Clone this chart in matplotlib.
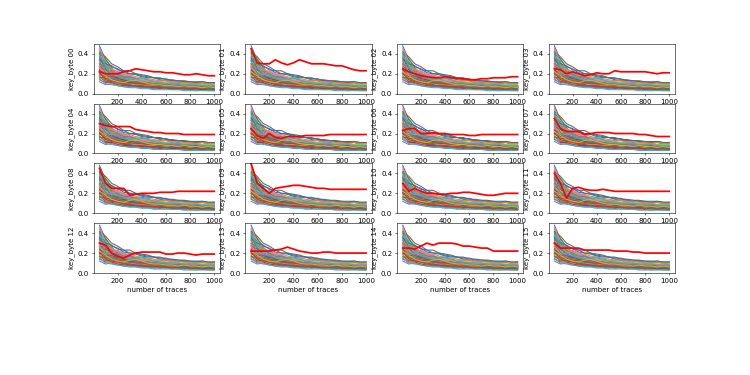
import numpy as np
from matplotlib import pyplot as plt

# number of traces on the x axis
n_traces = [50, 100, 150, 200, 250, 300, 350, 400, 450, 500,
            550, 600, 650, 700, 750, 800, 850, 900, 950, 1000]

key_bytes = ['00', '01', '02', '03', '04', '05', '06', '07',
             '08', '09', '10', '11', '12', '13', '14', '15']

# wrong key guesses (same set for every byte)
wrong_keys = [
    [.48, .34, .27, .25, .21, .20, .19, .17, .16, .16, .14, .13, .13, .12, .12, .11, .11, .12, .11, .11],
    [.44, .29, .22, .19, .18, .14, .13, .13, .12, .10, .11, .10, .09, .09, .10, .09, .08, .08, .09, .08],
    [.40, .35, .26, .20, .16, .16, .13, .11, .12, .10, .09, .10, .09, .08, .08, .07, .07, .08, .07, .06],
    [.36, .24, .21, .16, .15, .12, .13, .11, .09, .10, .09, .08, .09, .08, .07, .07, .06, .07, .06, .06],
    [.33, .30, .25, .19, .18, .17, .14, .15, .14, .12, .13, .13, .11, .11, .12, .10, .10, .11, .10, .10],
    [.30, .20, .17, .15, .12, .11, .11, .09, .08, .09, .08, .07, .07, .06, .07, .06, .05, .06, .05, .05],
    [.28, .26, .20, .17, .17, .14, .12, .13, .12, .10, .10, .11, .09, .09, .08, .09, .08, .07, .08, .07],
    [.26, .18, .16, .13, .10, .10, .10, .08, .08, .07, .07, .06, .06, .06, .05, .05, .05, .05, .04, .04],
    [.24, .22, .20, .16, .15, .14, .11, .12, .10, .10, .09, .09, .09, .08, .08, .08, .07, .07, .07, .07],
    [.22, .15, .13, .12, .09, .09, .08, .08, .07, .06, .06, .06, .05, .05, .05, .04, .04, .05, .04, .04],
    [.20, .19, .17, .14, .14, .13, .12, .11, .12, .11, .10, .10, .10, .09, .09, .09, .09, .08, .09, .08],
    [.18, .13, .11, .10, .08, .07, .07, .06, .06, .05, .05, .05, .04, .04, .04, .04, .03, .04, .03, .03],
    [.16, .16, .13, .13, .11, .10, .11, .09, .09, .09, .08, .08, .08, .07, .08, .07, .07, .07, .06, .06],
    [.14, .11, .11, .09, .08, .08, .07, .07, .06, .06, .05, .06, .05, .05, .05, .04, .05, .04, .04, .04],
    [.12, .09, .10, .08, .07, .07, .07, .06, .06, .05, .06, .05, .05, .05, .04, .05, .04, .04, .04, .03],
    [.42, .37, .30, .27, .23, .23, .20, .19, .18, .16, .15, .15, .13, .13, .12, .12, .11, .11, .10, .11],
    [.38, .27, .25, .22, .19, .17, .16, .14, .13, .13, .12, .11, .12, .10, .10, .10, .09, .09, .09, .09],
    [.34, .29, .22, .18, .16, .15, .15, .13, .12, .11, .11, .10, .09, .09, .08, .09, .08, .07, .08, .08],
    [.31, .25, .24, .21, .18, .16, .14, .14, .12, .12, .11, .10, .10, .09, .10, .08, .09, .08, .08, .07],
    [.29, .19, .17, .15, .13, .12, .11, .11, .09, .09, .08, .08, .08, .07, .07, .06, .07, .06, .06, .06],
    [.27, .24, .18, .16, .14, .12, .12, .10, .10, .09, .09, .08, .08, .08, .07, .08, .07, .06, .07, .07],
    [.25, .16, .15, .12, .11, .11, .09, .09, .08, .08, .07, .07, .06, .07, .06, .06, .05, .06, .05, .05],
    [.23, .21, .18, .17, .13, .13, .12, .11, .10, .10, .09, .09, .09, .08, .08, .08, .07, .07, .08, .07],
    [.21, .14, .12, .11, .10, .08, .08, .07, .07, .07, .06, .06, .05, .05, .06, .05, .05, .04, .05, .04],
    [.19, .18, .15, .13, .13, .11, .11, .10, .10, .09, .09, .09, .08, .08, .08, .07, .08, .07, .07, .07],
    [.17, .12, .13, .11, .09, .09, .08, .08, .07, .07, .07, .06, .06, .06, .05, .05, .05, .05, .05, .04],
    [.46, .31, .24, .21, .17, .16, .13, .12, .12, .10, .10, .10, .09, .09, .09, .08, .08, .08, .08, .07],
    [.37, .32, .23, .20, .17, .17, .14, .12, .11, .11, .09, .09, .09, .08, .08, .07, .07, .07, .06, .06],
    [.32, .22, .21, .17, .16, .14, .13, .13, .12, .11, .12, .11, .10, .10, .10, .09, .10, .09, .09, .09],
    [.15, .10, .09, .08, .07, .06, .06, .05, .05, .04, .04, .04, .04, .04, .03, .03, .03, .03, .03, .03],
    [.35, .30, .28, .24, .23, .20, .20, .18, .17, .16, .16, .14, .14, .13, .13, .12, .12, .12, .11, .11],
    [.28, .29, .24, .22, .19, .19, .17, .16, .15, .14, .13, .13, .12, .12, .11, .11, .10, .11, .10, .10],
    [.41, .25, .19, .16, .14, .13, .11, .11, .10, .09, .09, .08, .08, .07, .07, .07, .06, .06, .06, .05],
    [.24, .17, .18, .15, .14, .12, .12, .11, .11, .10, .09, .09, .08, .08, .08, .07, .08, .07, .07, .06],
    [.30, .26, .18, .17, .15, .13, .12, .11, .10, .10, .09, .09, .08, .08, .07, .07, .07, .06, .06, .06],
    [.20, .15, .15, .13, .12, .11, .10, .10, .09, .09, .08, .08, .08, .07, .07, .07, .06, .06, .06, .05],
    [.27, .20, .19, .23, .20, .18, .15, .13, .13, .12, .11, .10, .11, .10, .09, .09, .09, .08, .08, .08],
    [.33, .21, .16, .14, .16, .17, .15, .12, .11, .10, .10, .09, .08, .09, .08, .08, .07, .07, .07, .07],
    [.22, .18, .14, .12, .11, .13, .14, .12, .10, .09, .09, .08, .08, .07, .08, .07, .07, .06, .07, .06],
    [.39, .28, .20, .19, .15, .14, .15, .16, .14, .12, .11, .10, .10, .10, .09, .09, .09, .08, .08, .08],
]

# correct key guess for each byte (red line)
correct_keys = [
    [.22, .20, .20, .20, .22, .23, .25, .24, .23, .22, .22, .21, .21, .20, .19, .19, .20, .19, .18, .18],
    [.45, .31, .30, .30, .34, .31, .29, .31, .34, .32, .30, .30, .30, .29, .28, .28, .26, .24, .23, .23],
    [.25, .22, .20, .18, .17, .16, .16, .17, .16, .15, .15, .14, .14, .15, .15, .16, .16, .16, .17, .17],
    [.25, .24, .20, .22, .20, .18, .19, .21, .20, .20, .23, .22, .22, .22, .22, .22, .21, .20, .21, .21],
    [.30, .28, .27, .27, .27, .27, .24, .23, .22, .21, .21, .20, .20, .20, .19, .19, .19, .19, .19, .19],
    [.25, .18, .15, .20, .16, .15, .17, .17, .17, .18, .18, .18, .18, .19, .19, .19, .19, .19, .19, .19],
    [.23, .25, .25, .20, .20, .21, .20, .20, .19, .19, .19, .18, .18, .19, .19, .19, .19, .19, .19, .19],
    [.35, .25, .22, .22, .22, .19, .20, .21, .21, .21, .20, .20, .20, .20, .19, .19, .18, .17, .17, .17],
    [.45, .30, .25, .25, .25, .18, .19, .20, .20, .20, .21, .21, .21, .22, .22, .22, .22, .22, .22, .22],
    [.50, .30, .25, .20, .25, .26, .27, .28, .28, .27, .26, .25, .25, .24, .24, .24, .24, .24, .24, .24],
    [.30, .22, .25, .22, .20, .20, .19, .19, .20, .20, .21, .21, .20, .19, .18, .18, .19, .20, .20, .20],
    [.40, .30, .15, .25, .26, .24, .23, .23, .24, .23, .22, .22, .22, .22, .22, .22, .22, .22, .22, .22],
    [.30, .28, .20, .17, .15, .18, .20, .21, .21, .21, .21, .19, .19, .20, .20, .19, .18, .19, .19, .19],
    [.22, .22, .22, .22, .23, .24, .26, .24, .22, .21, .20, .20, .21, .21, .20, .20, .20, .20, .20, .20],
    [.25, .25, .24, .27, .30, .28, .30, .30, .30, .29, .27, .27, .26, .25, .25, .22, .22, .22, .22, .22],
    [.30, .25, .25, .25, .25, .23, .23, .23, .23, .23, .22, .22, .22, .21, .21, .20, .20, .20, .20, .20],
]

fig, axes = plt.subplots(4, 4, figsize=(15, 7.5), dpi=50)
plt.subplots_adjust(left=0.125, right=0.9, top=0.883, bottom=0.272)

for i, ax in enumerate(axes.flat):
    for curve in wrong_keys:
        ax.plot(n_traces, curve)
    ax.plot(n_traces, correct_keys[i], color='r', linewidth=2.5)
    ax.set_ylim(0, 0.5)
    ax.set_ylabel('key_byte ' + key_bytes[i])
    if i >= 12:
        ax.set_xlabel('number of traces')

plt.savefig('out.png')
